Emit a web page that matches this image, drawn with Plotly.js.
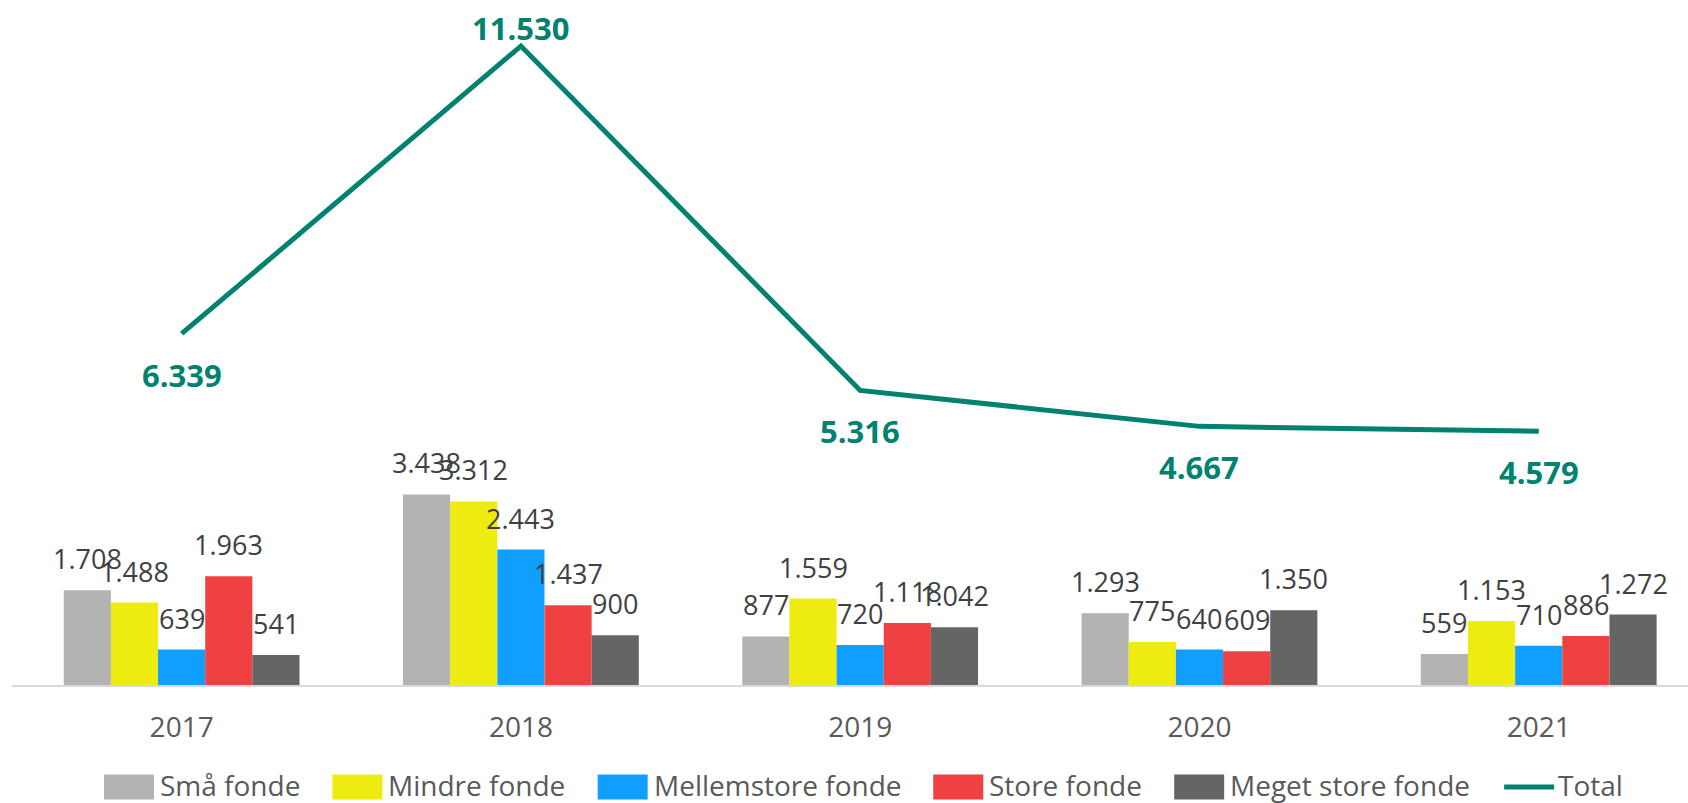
<!DOCTYPE html>
<html>
<head>
<meta charset="utf-8">
<script src="https://cdn.plot.ly/plotly-3.0.1.min.js"></script>
<style>
  html, body {margin: 0; padding: 0; background: #fff;}
  #plot-area {width: 1688px; height: 803px;}
</style>
</head>
<body>
<div id="plot-area"></div>
<script>
// data
var years = ["2017", "2018", "2019", "2020", "2021"];
var seriesNames = ["Små fonde", "Mindre fonde", "Mellemstore fonde", "Store fonde", "Meget store fonde"];
var smaa = [1708, 3438, 877, 1293, 559];
var mindre = [1488, 3312, 1559, 775, 1153];
var mellemstore = [639, 2443, 720, 640, 710];
var store = [1963, 1437, 1118, 609, 886];
var megetStore = [541, 900, 1042, 1350, 1272];
var total = [6339, 11530, 5316, 4667, 4579];
var totalLabelAbove = [false, true, false, false, false];

var barColors = ["#B3B3B3", "#EEEB11", "#109FFF", "#EF4141", "#656565"];
var teal = "#00826F";
var FONT = "'Open Sans', 'DejaVu Sans', sans-serif";
var bargap = 0.305;

// figure geometry (px)
var W = 1688, H = 803;
var M = {l: 12, r: 0, t: 20, b: 118};

function FmtDK(v) {
    return String(v).replace(/\B(?=(\d{3})+(?!\d))/g, ".");
}
function PaperX(px) { return (px - M.l) / (W - M.l - M.r); }
function PaperY(py) { return (H - M.b - py) / (H - M.t - M.b); }

var allBars = [smaa, mindre, mellemstore, store, megetStore];
var data = [];
var annotations = [];
var shapes = [];
var w = (1 - bargap) / allBars.length;

for (var s = 0; s < allBars.length; s++) {
    data.push({
        type: "bar",
        x: years,
        y: allBars[s],
        name: seriesNames[s],
        marker: {color: barColors[s]},
        hoverinfo: "y+name"
    });
    for (var i = 0; i < years.length; i++) {
        annotations.push({
            x: i + (s - 2) * w,
            y: allBars[s][i],
            xref: "x", yref: "y",
            text: FmtDK(allBars[s][i]),
            showarrow: false,
            yanchor: "bottom",
            yshift: 11,
            font: {family: FONT, size: 27, color: "#404040"}
        });
    }
}

data.push({
    type: "scatter",
    mode: "lines",
    x: years,
    y: total,
    name: "Total",
    line: {color: teal, width: 5}
});

for (var i = 0; i < years.length; i++) {
    annotations.push({
        x: i,
        y: total[i],
        xref: "x", yref: "y",
        text: "<b>" + FmtDK(total[i]) + "</b>",
        showarrow: false,
        yanchor: "middle",
        yshift: totalLabelAbove[i] ? 18 : -41,
        font: {family: FONT, size: 31, color: teal}
    });
}

// legend drawn by hand (wide swatches like the original)
var legendNames = seriesNames.concat(["Total"]);
var ctx = document.createElement("canvas").getContext("2d");
ctx.font = "28px 'Open Sans'";
var swatchW = 50, swatchH = 25, textGap = 5, itemGap = 33, legendY = 785;
var widths = legendNames.map(function (n) { return ctx.measureText(n).width; });
var legendW = 0;
widths.forEach(function (tw) { legendW += swatchW + textGap + tw + itemGap; });
legendW -= itemGap;
var cx = 863 - legendW / 2;
for (var k = 0; k < legendNames.length; k++) {
    if (k < barColors.length) {
        shapes.push({
            type: "rect", xref: "paper", yref: "paper",
            x0: PaperX(cx), x1: PaperX(cx + swatchW),
            y0: PaperY(legendY + 2 - swatchH / 2), y1: PaperY(legendY + 2 + swatchH / 2),
            fillcolor: barColors[k], line: {width: 0}
        });
    } else {
        shapes.push({
            type: "line", xref: "paper", yref: "paper",
            x0: PaperX(cx + 2), x1: PaperX(cx + swatchW + 2),
            y0: PaperY(legendY + 2), y1: PaperY(legendY + 2),
            line: {color: teal, width: 5}
        });
    }
    annotations.push({
        x: PaperX(cx + swatchW + textGap), y: PaperY(legendY),
        xref: "paper", yref: "paper",
        xanchor: "left", yanchor: "middle",
        text: legendNames[k],
        showarrow: false,
        borderpad: 0,
        font: {family: FONT, size: 28, color: "#595959"}
    });
    cx += swatchW + textGap + widths[k] + itemGap;
}

var layout = {
    width: W,
    height: H,
    margin: M,
    paper_bgcolor: "#ffffff",
    plot_bgcolor: "#ffffff",
    barmode: "group",
    bargap: bargap,
    bargroupgap: 0,
    showlegend: false,
    font: {family: FONT, size: 28, color: "#595959"},
    xaxis: {
        type: "category",
        range: [-0.5, 4.44],
        showline: true,
        linecolor: "#D9D9D9",
        linewidth: 2,
        ticks: "outside",
        ticklen: 16,
        tickcolor: "rgba(0,0,0,0)",
        tickfont: {family: FONT, size: 28, color: "#595959"},
        showgrid: false,
        zeroline: false
    },
    yaxis: {
        range: [0, 12000],
        visible: false,
        showgrid: false,
        zeroline: false
    },
    shapes: shapes,
    annotations: annotations
};

Plotly.newPlot("plot-area", data, layout, {displayModeBar: false});
</script>
</body>
</html>
